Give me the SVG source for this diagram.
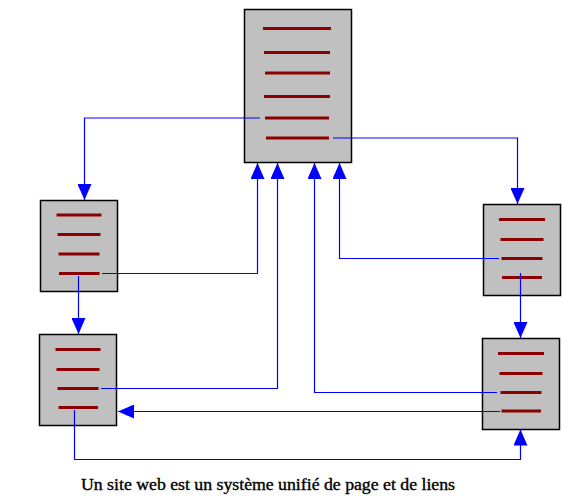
<svg xmlns="http://www.w3.org/2000/svg" width="583" height="498" viewBox="0 0 583 498">
<defs>
<marker id="ah" viewBox="0 0 16 14" refX="16" refY="7" markerWidth="16" markerHeight="14" markerUnits="userSpaceOnUse" orient="auto">
<path d="M0,0 L16,7 L0,14 z" fill="#0000ff"/>
</marker>
</defs>
<style>
.box{fill:#c0c0c0;stroke:#000;stroke-width:1.5}
.ln{stroke:#8b0000;stroke-width:3.2;fill:none}
.c{stroke:#0000ff;stroke-width:1.2;fill:none;marker-end:url(#ah)}
.cap{font-family:"Liberation Serif",serif;font-size:16px;fill:#000;stroke:#000;stroke-width:0.35}
</style>
<rect width="583" height="498" fill="#fff"/>
<g id="page-main">
<rect class="box" x="244.5" y="9.5" width="107" height="153"/>
<path class="ln" d="M263,28.5H331M264,52.5H330M265,73H330M264,96.5H330M265,118H329M266,138H329"/>
</g>
<g id="page-left-1">
<rect class="box" x="40.5" y="200.5" width="77" height="91"/>
<path class="ln" d="M56.5,215H101.5M57.5,234.5H100.5M58.5,254H99.5M59,273.5H99.5"/>
</g>
<g id="page-left-2">
<rect class="box" x="39.5" y="334.5" width="77" height="91"/>
<path class="ln" d="M55.5,349.5H100.5M56.5,369.5H99.5M57.5,388.5H98.5M58.5,407.5H98"/>
</g>
<g id="page-right-1">
<rect class="box" x="483.5" y="204.5" width="77" height="91"/>
<path class="ln" d="M499,219.5H545M500.5,239.5H543.5M501.5,258.5H542.5M502,277.5H542"/>
</g>
<g id="page-right-2">
<rect class="box" x="482.5" y="338.5" width="77" height="91"/>
<path class="ln" d="M498,353.5H544M499.5,373.5H542.5M500.5,392.5H541.5M501.5,411H541"/>
</g>
<g id="connectors">
<path class="c" d="M260,118H84.5V200"/>
<path class="c" d="M333,138H517.5V204"/>
<path class="c" d="M102,273.5H257.5V163"/>
<path class="c" d="M78.5,276V334"/>
<path class="c" d="M101,388.5H277.5V163"/>
<path class="c" d="M500,411.5H118"/>
<path class="c" d="M74.5,410V459.5H520.5V429.5"/>
<path class="c" d="M499,258.5H339.5V163"/>
<path class="c" d="M520.5,273V338"/>
<path class="c" d="M497,392.5H314.5V163"/>
</g>
<text class="cap" x="81" y="490" textLength="374" lengthAdjust="spacingAndGlyphs">Un site web est un système unifié de page et de liens</text>
</svg>
